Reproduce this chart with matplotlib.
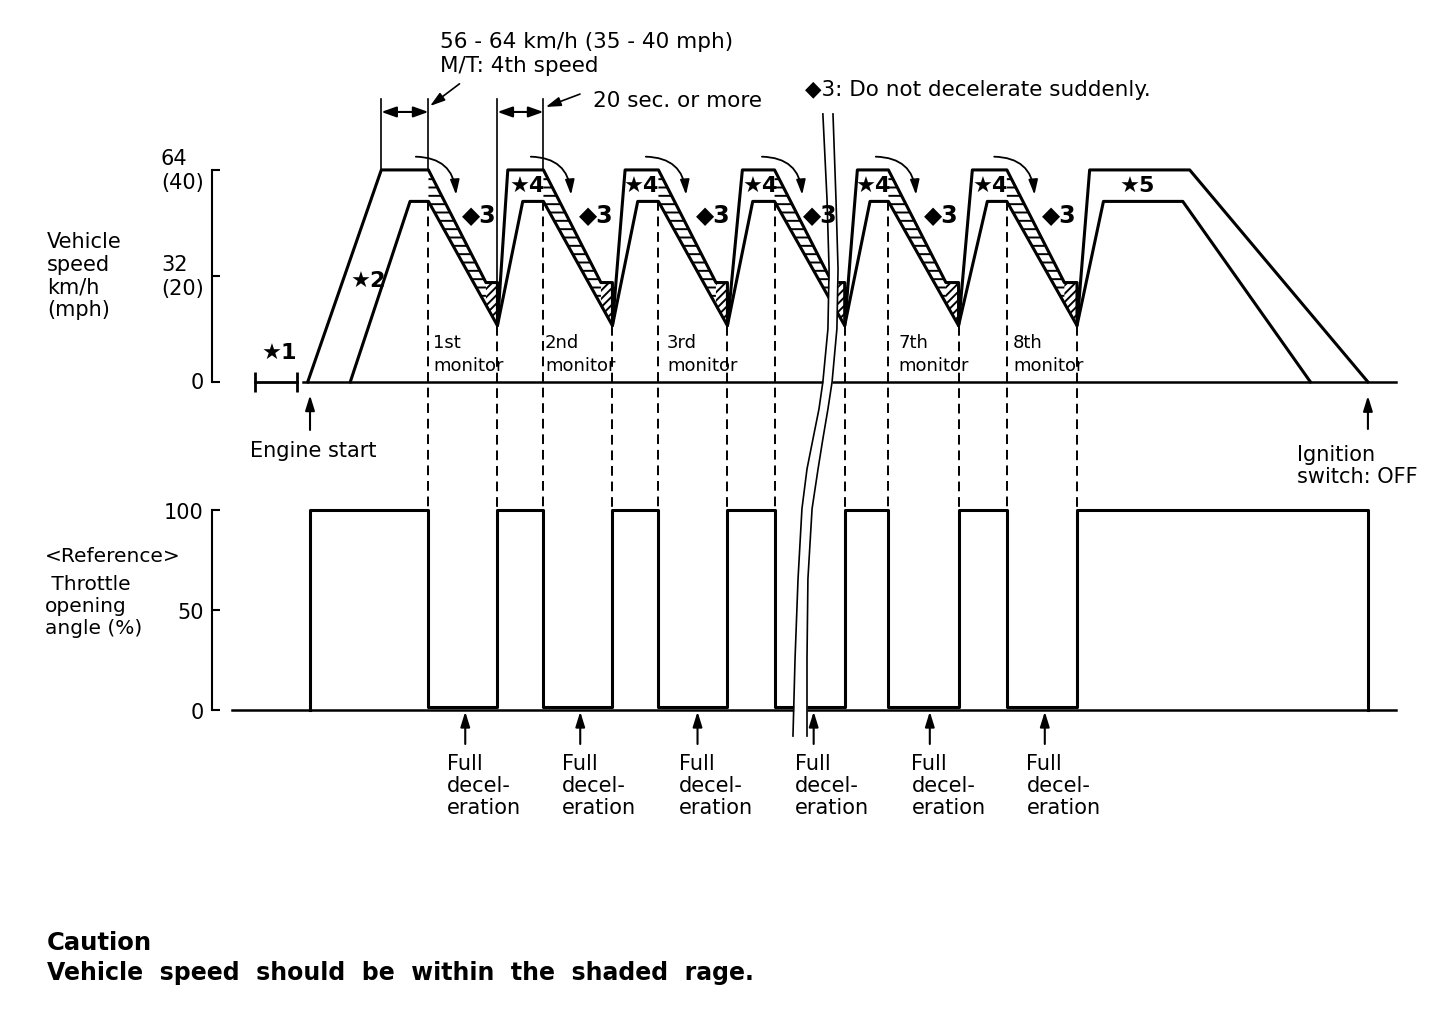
import numpy as np
import matplotlib.pyplot as plt

plt.rcParams['font.family'] = ['DejaVu Sans']
plt.rcParams['hatch.linewidth'] = 1.4
plt.rcParams['hatch.color'] = 'black'

# time in s from engine start, speed in km/h, throttle in %
upper_t = [-1, 31, 51.5,
           76.5, 81.5, 81.5, 86, 101.5,
           126.5, 131.5, 131.5, 137, 151.5,
           176.5, 181.5, 181.5, 188, 202,
           227, 232.5, 232.5, 238, 251.5,
           276.5, 282, 282, 288, 303,
           328, 333.5, 333.5, 339, 382.5, 460]
upper_v = [0, 64, 64,
           30, 30, 17, 64, 64,
           30, 30, 17, 64, 64,
           30, 30, 17, 64, 64,
           30, 30, 17, 64, 64,
           30, 30, 17, 64, 64,
           30, 30, 17, 64, 64, 0]
lower_t = [17.5, 43.5, 51.5, 81.5, 92.5, 101.5, 131.5, 142.5, 151.5, 181.5, 192.5,
           202, 232.5, 243.5, 251.5, 282, 294.5, 303, 333.5, 345, 379.5, 435]
lower_v = [0, 54.5, 54.5, 17, 54.5, 54.5, 17, 54.5, 54.5, 17, 54.5,
           54.5, 17, 54.5, 54.5, 17, 54.5, 54.5, 17, 54.5, 54.5, 0]

decel_start = [51.5, 101.5, 151.5, 202, 251.5, 303]
band_end = [76.5, 126.5, 176.5, 227, 276.5, 328]
decel_min = [81.5, 131.5, 181.5, 232.5, 282, 333.5]

thr_t = [0, 0, 51.5, 81.5, 101.5, 131.5, 151.5, 181.5, 202, 232.5, 251.5, 282, 303, 333.5, 460]
thr_v = [0, 100, 1.5, 100, 1.5, 100, 1.5, 100, 1.5, 100, 1.5, 100, 1.5, 100, 0]

speed_ticks = [0, 32, 64]
speed_ticklabels = ['0', '32\n(20)', '64\n(40)']
thr_ticks = [0, 50, 100]
thr_ticklabels = ['0', '50', '100']

monitor_names = ['1st', '2nd', '3rd', '7th', '8th']
monitor_t = [53.5, 102.2, 155.2, 255.7, 305.7]
star4_t = [94.3, 143.9, 195.7, 244.8, 295.7]
diamond_t = [73.5, 124.5, 175.5, 222, 274.5, 326]
full_decel_t = [67.5, 117.5, 168.5, 219, 269.5, 319.5]

dim_spans = [(31, 51.5), (81.5, 101.5)]
guide_t = [31, 51.5, 81.5, 101.5]
guide_bottom = [64, 64, 30, 64]
engine_start_t = 0
ignition_off_t = 460
idle_span = [-24, -5.5]
speed_base = [-3, 472]
thr_base = [-34, 472]

# break symbol (two wavy lines), speed units
break_v = [80.9, 55.2, 34.1, 16.0, 0.0, -8.2, -17.2, -26.3, -38.3, -59.5, -83.6, -106.9]
break_left_t = [223.0, 224.8, 225.7, 225.2, 223.0, 221.3, 218.7, 216.1, 213.9, 212.2,
                210.9, 210.0]
break_right_t = [227.4, 228.7, 229.6, 229.1, 227.0, 225.2, 223.0, 220.9, 218.3, 216.5,
                 216.1, 216.1]

W, H = 1456, 1012
fig = plt.figure(figsize=(W / 100, H / 100), dpi=100)
ax_t = fig.add_axes([0, 0, 1, 1])
ax_s = fig.add_axes([0, 0, 1, 1])
for ax in (ax_t, ax_s):
    ax.set_xlim(-134.8, 498.3)
    ax.patch.set_visible(False)
    for side in ('top', 'right', 'bottom'):
        ax.spines[side].set_visible(False)
    ax.xaxis.set_visible(False)
    ax.spines['left'].set_position(('data', -42.6))
    ax.spines['left'].set_linewidth(1.5)
    ax.tick_params(axis='y', direction='in', length=6, width=1.5, labelsize=15, pad=6)
ax_s.set_ylim(-189.9, 115.6)
ax_t.set_ylim(-150.5, 355.5)
ax_s.spines['left'].set_bounds(0, 64)
ax_t.spines['left'].set_bounds(0, 100)
ax_s.set_yticks(speed_ticks, speed_ticklabels)
ax_t.set_yticks(thr_ticks, thr_ticklabels)
for lab in ax_s.get_yticklabels():
    lab.set_multialignment('left')
    lab.set_verticalalignment('center')

lw = 2.2
# speed curves
ax_s.plot(speed_base, [0, 0], color='black', lw=1.8)
ax_s.plot(upper_t, upper_v, color='black', lw=lw)
ax_s.plot(lower_t, lower_v, color='black', lw=lw)

for s, e, m in zip(decel_start, band_end, decel_min):
    tt = np.linspace(s, e, 40)
    ax_s.fill_between(tt, np.interp(tt, upper_t, upper_v), np.interp(tt, lower_t, lower_v),
                      facecolor='none', edgecolor='black', hatch='--', lw=0)
    tt2 = np.linspace(e, m, 10)
    ax_s.fill_between(tt2, np.interp(e, upper_t, upper_v), np.interp(tt2, lower_t, lower_v),
                      facecolor='none', edgecolor='black', hatch='////', lw=0)

# dashed links down to the throttle chart
v_thr_top = ax_s.transData.inverted().transform(ax_t.transData.transform((0, 100)))[1]
for t in decel_start + decel_min:
    ax_s.plot([t, t], [np.interp(t, lower_t, lower_v), v_thr_top], color='black',
              lw=1.4, ls=(0, (5, 3)))

# dimension guides
guide_top = 85.5
dim_v = 81.5
for t, b in zip(guide_t, guide_bottom):
    ax_s.plot([t, t], [guide_top, b], color='black', lw=1.2)
for a, b in dim_spans:
    ax_s.annotate('', xy=(a, dim_v), xytext=(b, dim_v),
                  arrowprops=dict(arrowstyle='<|-|>,head_length=0.45,head_width=0.16',
                                  mutation_scale=20, color='black', lw=1.5,
                                  shrinkA=0, shrinkB=0))
head = '-|>,head_length=0.45,head_width=0.14'
ax_s.annotate('', xy=(52.2, 83.3), xytext=(65, 90),
              arrowprops=dict(arrowstyle=head, mutation_scale=20, color='black', lw=1.2,
                              shrinkA=0, shrinkB=0))
ax_s.annotate('', xy=(102.5, 83), xytext=(117.4, 86.9),
              arrowprops=dict(arrowstyle=head, mutation_scale=20, color='black', lw=1.2,
                              shrinkA=0, shrinkB=0))
ax_s.text(56.5, 99.3, '56 - 64 km/h (35 - 40 mph)\nM/T: 4th speed', fontsize=15.5,
          ha='left', va='center', linespacing=1.2)
ax_s.text(123, 85.1, '20 sec. or more', fontsize=15.5, ha='left', va='center')
ax_s.text(215.2, 88.5, '◆3: Do not decelerate suddenly.', fontsize=15.5,
          ha='left', va='center')

# curved arrows over each deceleration
for t0 in decel_start:
    ax_s.annotate('', xy=(t0 + 12, 56.5), xytext=(t0 - 5.5, 68),
                  arrowprops=dict(arrowstyle=head, mutation_scale=20, color='black', lw=1.3,
                                  shrinkA=0, shrinkB=0, connectionstyle='arc3,rad=-0.45'))

for t in star4_t:
    ax_s.text(t, 59.5, '★4', fontsize=16, fontweight='bold', ha='center', va='center')
for t in diamond_t:
    ax_s.text(t, 50.7, '◆3', fontsize=17, fontweight='bold', ha='center', va='center',
              zorder=12)
ax_s.text(25.2, 30.8, '★2', fontsize=16, fontweight='bold', ha='center', va='center')
ax_s.text(359.6, 59.5, '★5', fontsize=16, fontweight='bold', ha='center', va='center')
ax_s.text(-13.5, 9, '★1', fontsize=16, fontweight='bold', ha='center', va='center')
ax_s.plot(idle_span, [0, 0], color='black', lw=2, marker='|', ms=14, mew=2)

for name, t in zip(monitor_names, monitor_t):
    ax_s.text(t, 8.5, name + '\nmonitor', fontsize=13, ha='left', va='center',
              linespacing=1.35)

ax_s.annotate('', xy=(engine_start_t, -4), xytext=(engine_start_t, -14.5),
              arrowprops=dict(arrowstyle=head, mutation_scale=20, color='black', lw=1.5,
                              shrinkA=0, shrinkB=0))
ax_s.text(-26.1, -20.5, 'Engine start', fontsize=15, ha='left', va='center')
ax_s.annotate('', xy=(ignition_off_t, -4.2), xytext=(ignition_off_t, -14.2),
              arrowprops=dict(arrowstyle=head, mutation_scale=20, color='black', lw=1.5,
                              shrinkA=0, shrinkB=0))
ax_s.text(429.1, -25.1, 'Ignition\nswitch: OFF', fontsize=15, ha='left', va='center',
          linespacing=1.15)

# throttle chart
ax_t.plot(thr_base, [0, 0], color='black', lw=1.8)
ax_t.plot(thr_t, thr_v, color='black', lw=lw, drawstyle='steps-post')
for t in full_decel_t:
    ax_t.annotate('', xy=(t, -0.8), xytext=(t, -17),
                  arrowprops=dict(arrowstyle=head, mutation_scale=20, color='black', lw=1.5,
                                  shrinkA=0, shrinkB=0))
    ax_t.text(t - 8, -37.5, 'Full\ndecel-\neration', fontsize=15, ha='left', va='center',
              linespacing=1.1)

# break symbol
ax_s.fill_betweenx(break_v, break_left_t, break_right_t, color='white', lw=0, zorder=9)
ax_s.plot(break_left_t, break_v, color='black', lw=1.2, zorder=10)
ax_s.plot(break_right_t, break_v, color='black', lw=1.2, zorder=10)

fig.text(47 / W, 1 - 276 / H, 'Vehicle\nspeed\nkm/h\n(mph)', fontsize=15,
         ha='left', va='center', linespacing=1.15)
fig.text(45 / W, 1 - 557 / H, '<Reference>', fontsize=14.5, ha='left', va='center')
fig.text(45 / W, 1 - 606 / H, ' Throttle\nopening\nangle (%)', fontsize=14.5,
         ha='left', va='center', linespacing=1.2)
fig.text(47 / W, 1 - 943 / H, 'Caution', fontsize=17.5, fontweight='bold',
         ha='left', va='center')
fig.text(47 / W, 1 - 973 / H, 'Vehicle  speed  should  be  within  the  shaded  rage.',
         fontsize=17, fontweight='bold', ha='left', va='center')

fig.savefig('out.png', dpi=100, facecolor='white')
